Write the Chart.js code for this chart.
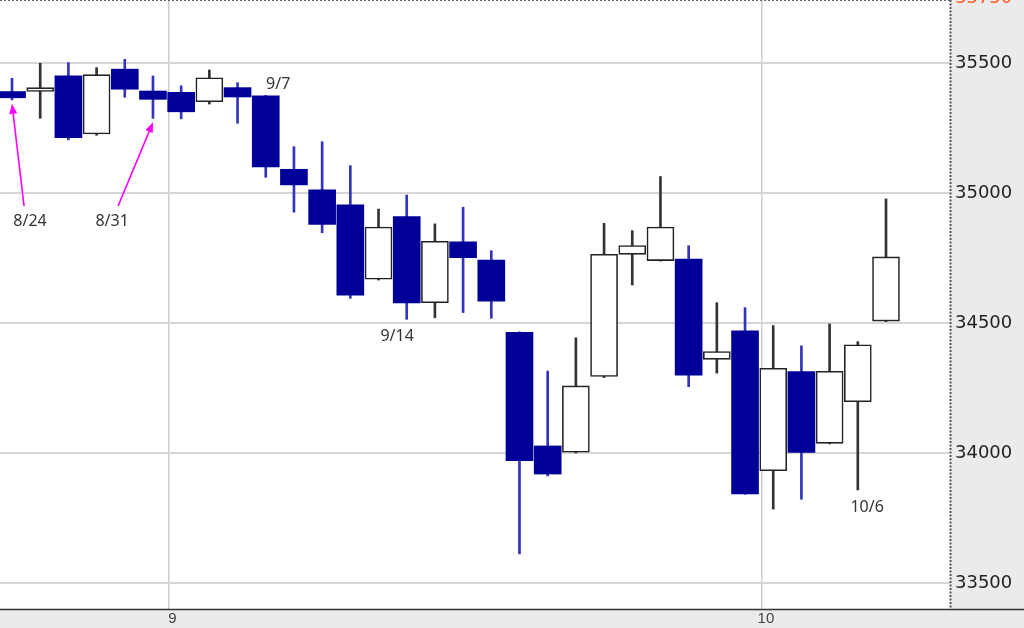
<!DOCTYPE html>
<html>
<head>
<meta charset="utf-8">
<script src="https://cdn.jsdelivr.net/npm/chart.js@4"></script>
<style>
  html, body { margin: 0; padding: 0; background: #ebebeb; }
  #wrap { width: 1024px; height: 628px; position: relative; }
</style>
</head>
<body>
<div id="wrap"><canvas id="candleChart"></canvas></div>
<script>
// daily candles 8/24 - 10/7
const dates = ["8/24", "8/25", "8/26", "8/27", "8/30", "8/31", "9/1", "9/2", "9/3", "9/7",
    "9/8", "9/9", "9/10", "9/13", "9/14", "9/15", "9/16", "9/17", "9/20", "9/21",
    "9/22", "9/23", "9/24", "9/27", "9/28", "9/29", "9/30", "10/1", "10/4", "10/5",
    "10/6", "10/7"];
const openP = [35390, 35390, 35450, 35227, 35476, 35392, 35387, 35351, 35405, 35373,
    35091, 35012, 34954, 34668, 34909, 34578, 34812, 34742, 34464, 34027,
    34003, 34294, 34764, 34740, 34746, 34360, 34470, 33932, 34313, 34037,
    34197, 34507];
const highP = [35441, 35499, 35501, 35482, 35514, 35450, 35412, 35473, 35424, 35375,
    35178, 35197, 35105, 34938, 34992, 34881, 34945, 34778, 34466, 34315,
    34443, 34883, 34855, 35063, 34797, 34578, 34559, 34490, 34412, 34496,
    34428, 34977];
const lowP = [35358, 35287, 35204, 35222, 35368, 35287, 35285, 35342, 35268, 35060,
    34926, 34847, 34595, 34665, 34514, 34520, 34540, 34518, 33612, 33912,
    34000, 34290, 34646, 34738, 34255, 34307, 33841, 33784, 33822, 34035,
    33858, 34505];
const closeP = [35366, 35405, 35213, 35455, 35399, 35360, 35312, 35443, 35369, 35100,
    35031, 34879, 34607, 34869, 34577, 34814, 34751, 34584, 33970, 33919,
    34258, 34764, 34798, 34869, 34299, 34390, 33843, 34326, 34002, 34314,
    34416, 34754];

const yTicks = [33500, 34000, 34500, 35000, 35500];
const monthTicks = [5.55, 26.6];
const monthLabels = ["9", "10"];
const topMark = 35750;

// date notes: text, x (candle index), y (price), arrow target candle (-1 = none)
const notes = [
    { text: "8/24", x: 0.64, y: 34892, target: 0 },
    { text: "8/31", x: 3.55, y: 34892, target: 5 },
    { text: "9/7", x: 9.44, y: 35419, target: -1 },
    { text: "9/14", x: 13.66, y: 34450, target: -1 },
    { text: "10/6", x: 30.33, y: 33789, target: -1 }
];

const isUp = closeP.map((c, i) => c >= openP[i]);
const bodyData = dates.map((d, i) => ({ x: i, y: [openP[i], closeP[i]] }));
const wickData = dates.map((d, i) => ({ x: i, y: [lowP[i], highP[i]] }));

const navy = "#000099";

// background: grey outside, white plot area
const bgPlugin = {
    id: "bg",
    beforeDraw(chart) {
        const { ctx, chartArea: a } = chart;
        ctx.save();
        ctx.fillStyle = "#ebebeb";
        ctx.fillRect(0, 0, chart.width, chart.height);
        ctx.fillStyle = "#ffffff";
        ctx.fillRect(a.left, a.top, a.right - a.left, a.bottom - a.top);
        ctx.restore();
    },
    afterDraw(chart) {
        const { ctx, chartArea: a } = chart;
        const ys = chart.scales.y;
        ctx.save();
        // bottom axis line across the full width
        ctx.strokeStyle = "#333";
        ctx.lineWidth = 1.5;
        ctx.beginPath();
        ctx.moveTo(0, a.bottom + 0.5);
        ctx.lineTo(chart.width, a.bottom + 0.5);
        ctx.stroke();
        // dashed right border of the plot
        ctx.setLineDash([2, 1.5]);
        ctx.strokeStyle = "#555";
        ctx.lineWidth = 2;
        ctx.beginPath();
        ctx.moveTo(a.right + 0.5, 0);
        ctx.lineTo(a.right + 0.5, a.bottom);
        ctx.stroke();
        // top marker level (mostly cut off)
        const ty = ys.getPixelForValue(topMark);
        ctx.setLineDash([2, 2]);
        ctx.strokeStyle = "#666";
        ctx.lineWidth = 1;
        ctx.beginPath();
        ctx.moveTo(a.left, Math.max(ty, 0.5));
        ctx.lineTo(a.right, Math.max(ty, 0.5));
        ctx.stroke();
        ctx.setLineDash([]);
        ctx.fillStyle = "#ff5a28";
        ctx.font = "18px 'DejaVu Sans'";
        ctx.textBaseline = "middle";
        ctx.textAlign = "left";
        ctx.fillText(String(topMark), a.right + 5, ty);
        ctx.restore();
    }
};

// date notes and magenta arrows
const notePlugin = {
    id: "notes",
    afterDatasetsDraw(chart) {
        const { ctx } = chart;
        const xs = chart.scales.x, ys = chart.scales.y;
        ctx.save();
        ctx.font = "16px 'Noto Sans'";
        ctx.textAlign = "center";
        ctx.textBaseline = "middle";
        notes.forEach(n => {
            const px = xs.getPixelForValue(n.x);
            const py = ys.getPixelForValue(n.y);
            ctx.fillStyle = "#333";
            ctx.fillText(n.text, px, py);
            if (n.target >= 0) {
                const tx = xs.getPixelForValue(n.target);
                const tyy = ys.getPixelForValue(lowP[n.target]) + 4;
                const sx = px + (tx < px ? -6 : 6);
                const sy = py - 15;
                const ang = Math.atan2(tyy - sy, tx - sx);
                ctx.strokeStyle = "#ff00ff";
                ctx.fillStyle = "#ff00ff";
                ctx.lineWidth = 1.6;
                ctx.beginPath();
                ctx.moveTo(sx, sy);
                ctx.lineTo(tx - 6 * Math.cos(ang), tyy - 6 * Math.sin(ang));
                ctx.stroke();
                ctx.beginPath();
                ctx.moveTo(tx, tyy);
                ctx.lineTo(tx - 10 * Math.cos(ang) + 4 * Math.sin(ang), tyy - 10 * Math.sin(ang) - 4 * Math.cos(ang));
                ctx.lineTo(tx - 10 * Math.cos(ang) - 4 * Math.sin(ang), tyy - 10 * Math.sin(ang) + 4 * Math.cos(ang));
                ctx.closePath();
                ctx.fill();
            }
        });
        ctx.restore();
    }
};

const ctx = document.getElementById("candleChart").getContext("2d");
new Chart(ctx, {
    type: "bar",
    data: {
        datasets: [{
            // wicks
            data: wickData,
            backgroundColor: isUp.map(u => u ? "#333333" : "#3333bb"),
            borderWidth: 0,
            barThickness: 2,
            grouped: false,
            order: 2
        }, {
            // bodies
            data: bodyData,
            backgroundColor: isUp.map(u => u ? "#ffffff" : navy),
            borderColor: isUp.map(u => u ? "#222222" : navy),
            borderWidth: isUp.map(u => u ? 1.6 : 0),
            borderSkipped: false,
            barThickness: 27,
            grouped: false,
            order: 1
        }]
    },
    options: {
        responsive: true,
        maintainAspectRatio: false,
        animation: false,
        layout: { padding: 0 },
        plugins: {
            legend: { display: false },
            tooltip: { enabled: false }
        },
        scales: {
            x: {
                type: "linear",
                min: -0.426,
                max: 33.27,
                offset: false,
                afterBuildTicks: scale => {
                    scale.ticks = monthTicks.map(v => ({ value: v }));
                },
                afterFit: scale => {
                    scale.height = 19;
                    scale.paddingLeft = 0;
                    scale.paddingRight = 0;
                },
                ticks: {
                    callback: (v, i) => monthLabels[i],
                    color: "#444",
                    font: { family: "Liberation Sans", size: 15 },
                    padding: 1,
                    labelOffset: 4,
                    maxRotation: 0,
                    autoSkip: false
                },
                grid: { color: "#cccccc", lineWidth: 1.5, drawTicks: false, offset: false },
                border: { display: false }
            },
            y: {
                position: "right",
                min: 33400,
                max: 35742,
                afterBuildTicks: scale => {
                    scale.ticks = yTicks.map(v => ({ value: v }));
                },
                afterFit: scale => {
                    scale.width = 74;
                    scale.paddingTop = 0;
                    scale.paddingBottom = 0;
                },
                ticks: {
                    color: "#222",
                    font: { family: "DejaVu Sans", size: 18 },
                    padding: 5,
                    callback: v => String(v)
                },
                grid: { color: "#d6d6d6", lineWidth: 2, drawTicks: false },
                border: { display: false }
            }
        }
    },
    plugins: [bgPlugin, notePlugin]
});
</script>
</body>
</html>
